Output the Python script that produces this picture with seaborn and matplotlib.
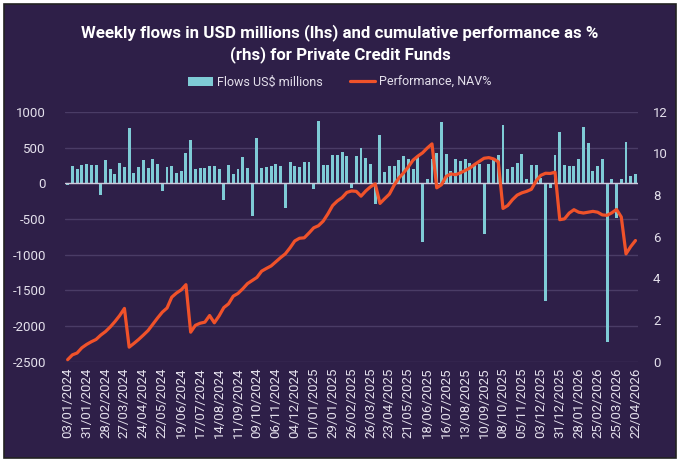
import numpy as np
import pandas as pd
import matplotlib
matplotlib.use('Agg')
import matplotlib.pyplot as plt
import seaborn as sns
from matplotlib.patches import Rectangle

# weekly dates (category axis), one label every 4 weeks
weeks = pd.date_range('2024-01-03', periods=121, freq='7D')

# weekly flows, USD millions (lhs)
flows = [
    -25, 243, 200, 262, 275, 252, 262, -163, 322, 200,
    126, 290, 233, 780, 150, 233, 322, 220, 336, 266,
    -115, 233, 243, 150, 177, 430, 607, 205, 215, 215,
    243, 243, 200, -233, 262, 135, 200, 374, 215, -458,
    630, 210, 224, 243, 271, 248, -350, 304, 248, 229,
    304, 304, -84, 870, 255, 255, 395, 395, 444, 385,
    -60, 380, 490, 350, 268, -285, 675, 158, 240, 240,
    320, 380, 335, 195, 364, -820, 65, 333, 425, 860,
    410, 170, 333, 317, 345, 287, 263, 270, -708, 268,
    333, 392, 820, 205, 233, 285, 415, 65, 252, 252,
    79, -1645, -70, 392, 722, 252, 238, 238, 345, 783,
    564, 172, 238, 345, -2228, 65, -489, 65, 578, 100,
    123,
]

# cumulative performance, NAV % (rhs)
performance = [
    0.10, 0.33, 0.42, 0.67, 0.83, 0.96, 1.07, 1.28, 1.45, 1.67,
    1.93, 2.22, 2.56, 0.70, 0.88, 1.07, 1.28, 1.50, 1.80, 2.10,
    2.38, 2.58, 3.10, 3.30, 3.45, 3.70, 1.42, 1.75, 1.85, 1.90,
    2.22, 1.87, 2.20, 2.60, 2.78, 3.15, 3.28, 3.50, 3.75, 3.90,
    4.05, 4.35, 4.48, 4.60, 4.80, 5.00, 5.18, 5.47, 5.80, 5.93,
    5.95, 6.18, 6.43, 6.53, 6.75, 7.10, 7.50, 7.72, 7.88, 8.13,
    8.20, 8.18, 7.95, 8.20, 8.40, 8.54, 7.60, 7.83, 8.05, 8.48,
    8.82, 9.07, 9.36, 9.68, 9.87, 10.03, 10.26, 10.46, 8.35, 8.50,
    8.90, 9.02, 8.98, 9.07, 9.18, 9.30, 9.47, 9.62, 9.77, 9.80,
    9.74, 9.60, 7.36, 7.50, 7.78, 8.00, 8.11, 8.18, 8.28, 8.68,
    8.95, 9.05, 9.04, 9.10, 6.82, 6.86, 7.14, 7.30, 7.18, 7.14,
    7.18, 7.22, 7.18, 7.05, 7.03, 7.15, 7.31, 6.95, 5.18, 5.53,
    5.82,
]

left_ticks = [-2500, -2000, -1500, -1000, -500, 0, 500, 1000]
right_ticks = [0, 2, 4, 6, 8, 10, 12]

bg = '#2e1f48'
txt = '#e4e0ec'
grid_col = '#4a3c66'
bar_col = '#7fcbd6'
line_col = '#f0522a'

sns.set_theme(style='white')
plt.rcParams['font.family'] = ['Roboto', 'DejaVu Sans']
plt.rcParams['axes.unicode_minus'] = False

fig = plt.figure(figsize=(6.8, 4.62), dpi=100)
fig.patch.set_facecolor('white')
fig.patches.append(Rectangle((0.006, 0.008), 0.988, 0.984, transform=fig.transFigure,
                             facecolor=bg, edgecolor='#222222', lw=1.2, zorder=-1))

ax = fig.add_axes([0.096, 0.217, 0.842, 0.541])
ax.set_facecolor(bg)

df = pd.DataFrame({'week': np.arange(len(flows)), 'flows': flows})
sns.barplot(data=df, x='week', y='flows', color=bar_col, saturation=1, width=0.62,
            linewidth=0, edgecolor='none', ax=ax, label='Flows US$ millions')
if ax.get_legend() is not None:
    ax.get_legend().remove()

ax.set_xlim(-0.5, len(flows) - 0.5)
ax.set_ylim(-2500, 1000)
ax.set_yticks(left_ticks)
ax.set_yticklabels([str(v) for v in left_ticks])
ax.yaxis.grid(True, color=grid_col, lw=1)
ax.set_axisbelow(True)
ax.axhline(0, color='#cfcadb', lw=1, zorder=1)
ax.set_xticks(np.arange(0, len(flows), 4))
ax.set_xticklabels(weeks[::4].strftime('%d/%m/%Y'), rotation=90)
ax.tick_params(axis='x', length=0, pad=4, labelsize=9.5, labelcolor=txt)
ax.tick_params(axis='y', length=0, pad=14, labelsize=9.5, labelcolor=txt)
ax.set_xlabel('')
ax.set_ylabel('')
for s in ax.spines.values():
    s.set_visible(False)

ax2 = ax.twinx()
sns.lineplot(x=np.arange(len(performance)), y=performance, ax=ax2, color=line_col,
             lw=2.3, label='Performance, NAV%')
ax2.set_ylim(0, 12)
ax2.set_yticks(right_ticks)
ax2.tick_params(axis='y', length=0, pad=11, labelsize=9.5, labelcolor=txt)
ax2.get_legend().remove()
for s in ax2.spines.values():
    s.set_visible(False)

h1, l1 = ax.get_legend_handles_labels()
h2, l2 = ax2.get_legend_handles_labels()
leg = fig.legend(h1 + h2, l1 + l2, loc='center', bbox_to_anchor=(0.5, 0.822), ncol=2,
                 frameon=False, fontsize=9, labelcolor=txt, handlelength=2.0,
                 handletextpad=0.3, columnspacing=2.2)

fig.text(0.5, 0.905, 'Weekly flows in USD millions (lhs) and cumulative performance as %\n'
         '(rhs) for Private Credit Funds', ha='center', va='center', color='white',
         fontsize=12.2, fontweight='bold', linespacing=1.4)

fig.savefig('out.png', dpi=100, facecolor=fig.get_facecolor())
